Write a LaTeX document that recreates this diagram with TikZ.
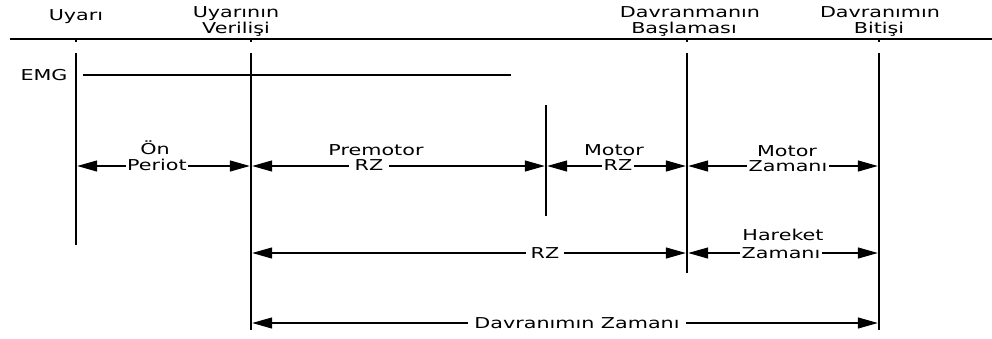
\documentclass[tikz,border=0pt]{standalone}
\usepackage{fontspec}
\usetikzlibrary{arrows.meta}
\newfontfamily\lblfont[FakeStretch=1.38]{DejaVu Sans}
\tikzset{
  lab/.style={font=\lblfont\fontsize{15}{17}\selectfont, inner sep=0pt, anchor=base},
  gaplab/.style={lab, fill=white, inner xsep=2pt},
  bar/.style={line width=2.3pt},
  dim/.style={line width=1.2pt, {Triangle[length=20pt,width=11pt]}-{Triangle[length=20pt,width=11pt]}, shorten <=1.2pt, shorten >=1.2pt},
}
\begin{document}
\begin{tikzpicture}[x=1pt,y=-1pt]
\useasboundingbox (0,0) rectangle (992,338);

% event markers on the time axis
\draw[line width=1.5pt] (10,39) -- (992,39);
\foreach \x in {76,251,687,879} \draw[line width=1.5pt] (\x,39) -- (\x,41.5);

\node[lab] (tUy)  at (76,20)  {Uyarı};
\node[lab] (tUv1) at (236,17.5) {Uyarının};
\node[lab] (tUv2) at (236,33.5) {Verilişi};
\node[lab] (tDb1) at (690,17.5) {Davranmanın};
\node[lab] (tDb2) at (684,33) {Başlaması};
\node[lab] (tDe1) at (880,17.5) {Davranımın};
\node[lab] (tDe2) at (879,33.5) {Bitişi};

% vertical event lines
\coordinate (v1t) at (76,53);   \coordinate (v1b) at (76,245);
\coordinate (v2t) at (251,53);  \coordinate (v2b) at (251,330);
\coordinate (v3t) at (546,105); \coordinate (v3b) at (546,216);
\coordinate (v4t) at (687,53);  \coordinate (v4b) at (687,273);
\coordinate (v5t) at (879,53);  \coordinate (v5b) at (879,330);
\draw[bar] (v1t) -- (v1b);
\draw[bar] (v2t) -- (v2b);
\draw[bar] (v3t) -- (v3b);
\draw[bar] (v4t) -- (v4b);
\draw[bar] (v5t) -- (v5b);

% EMG trace
\node[lab] (emg) at (44,80) {EMG};
\coordinate (e1) at (83,75);
\coordinate (e2) at (511,75);
\draw[line width=1.4pt] (e1) -- (e2);

% row 1
\coordinate (a1) at (76,166);
\coordinate (a2) at (251,166);
\coordinate (a3) at (546,166);
\coordinate (a4) at (687,166);
\coordinate (a5) at (879,166);
\draw[dim] (a1) -- (a2);
\node[lab] at (155,154) {Ön};
\node[gaplab, inner xsep=1pt] at (157,170) {Periot};
\draw[dim] (a2) -- (a3);
\node[lab] at (376,155) {Premotor};
\node[gaplab, inner xsep=6pt] at (369,170) {RZ};
\draw[dim] (a3) -- (a4);
\node[lab] at (614,155) {Motor};
\node[gaplab] at (618,170) {RZ};
\draw[dim] (a4) -- (a5);
\node[lab] at (787,156) {Motor};
\node[gaplab] at (788,171) {Zamanı};

% row 2
\coordinate (b2) at (251,253);
\coordinate (b4) at (687,253);
\coordinate (b5) at (879,253);
\draw[dim] (b2) -- (b4);
\node[gaplab, inner xsep=5pt] at (545,258) {RZ};
\draw[dim] (b4) -- (b5);
\node[lab] at (783,240) {Hareket};
\node[gaplab] at (781,258) {Zamanı};

% row 3
\coordinate (c2) at (251,323);
\coordinate (c5) at (879,323);
\draw[dim] (c2) -- (c5);
\node[gaplab, inner xsep=6pt] at (577,328) {Davranımın Zamanı};
\end{tikzpicture}
\end{document}
